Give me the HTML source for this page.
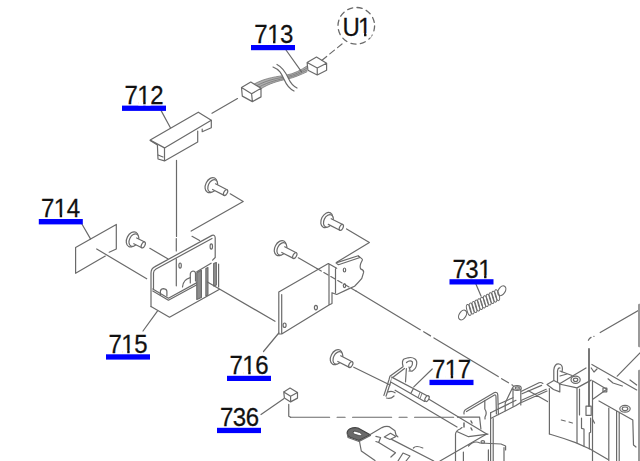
<!DOCTYPE html>
<html><head><meta charset="utf-8"><style>
html,body{margin:0;padding:0;background:#fff;width:640px;height:461px;overflow:hidden}
svg{display:block}
</style></head><body>
<svg width="640" height="461" viewBox="0 0 640 461">
<defs>
<g id="screwL">
 <g transform="rotate(27)">
  <ellipse cx="-0.8" cy="0" rx="5.4" ry="8" fill="#fff"/>
  <ellipse cx="1.0" cy="0" rx="4.4" ry="6.6" fill="#fff"/>
  <path d="M2.5,-3.2 L15.5,-3.2 L15.5,3.2 L2.5,3.2 Z" fill="#fff" stroke="none"/>
  <path d="M2.5,-3.2 L15.5,-3.2 M2.5,3.2 L15.5,3.2"/>
  <ellipse cx="15.5" cy="0" rx="1.7" ry="3.2" fill="#fff"/>
 </g>
</g>
<g id="screwS">
 <g transform="rotate(27)">
  <ellipse cx="-0.8" cy="0" rx="5.4" ry="8" fill="#fff"/>
  <ellipse cx="1.0" cy="0" rx="4.4" ry="6.6" fill="#fff"/>
  <path d="M2.5,-3.2 L11.5,-3.2 L11.5,3.2 L2.5,3.2 Z" fill="#fff" stroke="none"/>
  <path d="M2.5,-3.2 L11.5,-3.2 M2.5,3.2 L11.5,3.2"/>
  <ellipse cx="11.5" cy="0" rx="1.7" ry="3.2" fill="#fff"/>
 </g>
</g>
</defs>
<rect width="640" height="461" fill="#fff"/>
<g fill="none" stroke="#6a6a6a" stroke-width="1.2" stroke-linejoin="round" stroke-linecap="round">

<!-- 713 harness -->
<path d="M254.5,83.8 C266,77.5 278,76.5 286,75.2 C294,73.8 301,70 307,66 L307,71.8 C301,74.5 294,77.8 287.5,79 C278,81 269,83.5 261,88.8 Z" fill="#b0b0b0" stroke="none"/>
<g stroke="#777" stroke-width="0.8">
<path d="M254.5,83.8 C266,77.5 278,76.5 286,75.2 C294,73.8 301,70 307,66"/>
<path d="M257,85.5 C268,79.5 279,78 286.5,76.6 C294.5,75 301,71.8 307,68"/>
<path d="M259,87 C269.5,81.3 279.5,79.5 287,77.8 C295,76.2 301,73 307,70"/>
<path d="M261,88.8 C269,83.5 278,81 287.5,79 C294,77.8 301,74.5 307,71.8"/>
</g>
<path d="M241.5,87.5 L250.8,82 L261,88.3 L251.6,93.8 Z M241.5,87.5 L242.3,96.1 L252.4,101.6 L261,96.9 L261,88.3 M251.6,93.8 L252.4,101.6" fill="#fff"/>
<path d="M307.1,62.5 L316.5,57 L326.6,63.3 L317.25,68 Z M307.1,62.5 L307.9,70.3 L317.25,75 L326.6,70.3 L326.6,63.3 M317.25,68 L317.25,75" fill="#fff"/>
<path d="M273,67 C281,69.5 282,75 284.4,80 C286.5,85 289,88.5 294,91 L297,88 C293,86 290.5,83 288.5,78.5 C286,73 284,67.5 277,64.5 Z" fill="#fff" stroke="none"/>
<path d="M273,67 C280,69.5 282,75 284.4,80 C286.5,85 289,88.5 294,91"/>
<path d="M277,64.5 C283,67.5 286,73 288.5,78.5 C290.5,83 293,86 297,88"/>
<path d="M286,50 L301.6,71.9"/>
<path d="M322,60.2 L342,44" stroke-dasharray="6,4"/>
<path d="M237.5,98.6 L212,113.3"/>
<circle cx="356.3" cy="25.8" r="18.3" stroke-dasharray="5.2,4.4" stroke-width="1.3"/>

<!-- 712 part -->
<path d="M150.2,140.1 L198.3,112.2 L211.3,120.3 L164.5,147.9 Z" fill="#fff"/>
<path d="M150.2,140.6 L157.4,145 L158,159 L164.5,160.9 L164.5,147.9 M164.5,160.9 L197.7,142 L197.7,131 M211.3,120.3 L211.3,127.8 L202.2,131.7 L202.2,129"/>
<path d="M158,155 L163,157"/>
<path d="M161.25,110.9 L170.4,127.75"/>
<path d="M176.5,160.3 L176.5,236.5 M176.3,238.5 L176.3,251 M176.3,258.8 L176.3,285.8"/>

<!-- top screw & lines -->
<use href="#screwL" x="211.8" y="185.5"/>
<path d="M230.2,193.8 L243.2,201.6 L191.2,231.1"/>
<path d="M192,236.3 L199.6,240.6"/>

<!-- 714 -->
<path d="M75.6,247.5 L116.3,224.4 L116.3,249 L109.2,252.2 M105.3,256.1 L75.6,273.3 L75.6,247.5"/>
<path d="M81.9,224 L90.5,238.9"/>
<path d="M96.7,249 L146.7,278.8"/>
<use href="#screwS" x="133" y="239.7"/>
<path d="M149.8,248.3 L167.75,258.8"/>

<!-- 715 bracket -->
<path d="M151,306.6 L151,273 Q151,268.5 155,266.6 L212,235.4 Q215.2,234.5 215.2,238 L215.2,257.5 L212.6,260.1"/>
<path d="M153.5,289 L153.5,273 Q153.5,270.5 156,269 L212,238.5"/>
<path d="M151,306.6 L169.5,317.2 L219.6,289.3 M152.8,289 L168.4,298.2 L198.3,281.9 M152.8,291 L168.4,300.2 L198.3,284"/>
<path d="M182.5,287 Q183,279.5 190.3,277.6"/>
<path d="M190.3,283 L190.3,274 Q190.5,271.5 193,271 Q195.5,271 195.5,273.5 L195.5,281"/>
<path d="M160.4,294.5 L160.4,291 Q161,288.6 163.5,288.6 Q166.9,289 166.9,291.5 L166.9,296"/>
<ellipse cx="180.1" cy="265.6" rx="1.2" ry="2.6"/>
<ellipse cx="211.3" cy="246.5" rx="1.2" ry="2.6"/>
<path d="M196.8,272.8 L201.4,270.3 L201.4,297.5 L196.8,299.5 Z" fill="#8c8c8c"/>
<path d="M205.9,268.5 L207.9,267.5 L207.9,295 L205.9,296 Z" fill="#9a9a9a"/>
<path d="M213.7,263.5 L216.3,262.5 L216.3,285 L213.7,286 Z" fill="#9a9a9a"/>
<path d="M218.6,264 L218.6,287 M196.8,271.7 L211.1,263.25"/>
<path d="M207.4,281.9 L275,321.3"/>
<path d="M157.4,311.2 L143,331"/>

<!-- 716 bracket -->
<use href="#screwL" x="327.5" y="220.4"/>
<use href="#screwL" x="281" y="248.5"/>
<path d="M346.6,228.9 L369.4,242.5 L336.7,262.3"/>
<path d="M298.3,257.8 L316.9,268.6"/>
<path d="M316.9,268.6 L356,291" stroke-dasharray="5,3"/>
<path d="M278.8,292 L328.35,263.5 L336.7,268.3 M329,264 L329,305 L281.7,334 L278.8,334 L278.8,292 M281.7,294.5 L281.7,334 M335.5,268.9 L335.5,292.7 M329,305 L332,303.5 L332,292.7 L336.7,294.5 L349.2,288.6 L354.6,286.2 Q358,283 361.8,278.4 L363.6,272.4 Q364,270 360.6,268.9 Q359,266 362.4,260 Q363,259 358.5,256.5"/>
<path d="M336.1,262.9 L358.2,255.7 L360,257.5 L338.5,264.7 Z"/>
<ellipse cx="344.5" cy="270" rx="1.2" ry="2"/>
<ellipse cx="344.5" cy="285.6" rx="1.2" ry="2"/>
<ellipse cx="315.9" cy="307.6" rx="1.5" ry="2.2"/>
<ellipse cx="284.6" cy="325.2" rx="1.5" ry="2.2"/>
<path d="M263.5,351.5 L278.8,333"/>

<!-- long centre line from 716 -->
<path d="M356,291 L513,385.5" stroke-dasharray="75,4,8,4"/>

<!-- 731 spring -->
<path d="M476,284.2 L481,296.1"/>
<g transform="translate(483,302.6) rotate(-27.5)">
 <g stroke-width="1"><ellipse cx="-16.0" cy="0" rx="1.9" ry="5.6" transform="rotate(12 -16.0 0)"/><ellipse cx="-12.8" cy="0" rx="1.9" ry="5.6" transform="rotate(12 -12.8 0)"/><ellipse cx="-9.6" cy="0" rx="1.9" ry="5.6" transform="rotate(12 -9.6 0)"/><ellipse cx="-6.4" cy="0" rx="1.9" ry="5.6" transform="rotate(12 -6.4 0)"/><ellipse cx="-3.2" cy="0" rx="1.9" ry="5.6" transform="rotate(12 -3.2 0)"/><ellipse cx="0.0" cy="0" rx="1.9" ry="5.6" transform="rotate(12 0.0 0)"/><ellipse cx="3.2" cy="0" rx="1.9" ry="5.6" transform="rotate(12 3.2 0)"/><ellipse cx="6.4" cy="0" rx="1.9" ry="5.6" transform="rotate(12 6.4 0)"/><ellipse cx="9.6" cy="0" rx="1.9" ry="5.6" transform="rotate(12 9.6 0)"/><ellipse cx="12.8" cy="0" rx="1.9" ry="5.6" transform="rotate(12 12.8 0)"/><ellipse cx="16.0" cy="0" rx="1.9" ry="5.6" transform="rotate(12 16.0 0)"/></g>
</g>
<ellipse cx="462.6" cy="315" rx="5.3" ry="3.4" transform="rotate(-58 462.6 315)"/>
<ellipse cx="501.8" cy="290.75" rx="5.3" ry="3.4" transform="rotate(-58 501.8 290.75)"/>
<!-- 717 -->
<use href="#screwL" x="337" y="357.5"/>
<path d="M353.75,367.25 L390,385"/>
<path d="M395.1,390.2 L457,427 M429,399.3 L486.7,434.1"/>
<path d="M383.9,395.4 L389,379.7 L389.9,376.3 L403,366.7 M386,396.2 L391,381 L392,378 L404.5,368.5"/>
<path d="M403,366 Q401.5,361 404,359 L408,357.8 Q412,356.8 415,359 Q417.5,361 416.5,365 Q416,369 412,371.2 L409,371 M406.5,362.5 Q410,359.5 412.5,362 Q413,365 410.5,367.5 M409,367 L410,370"/>
<path d="M406.4,368.5 L405.5,381.9"/>
<path d="M391.7,377.1 L429,396.7 L424.6,401.4 L391.2,382.3 Z" fill="#fff" stroke="none"/><path d="M391.7,377.1 L429,396.7 M391.2,382.3 L424.6,401.4 M413.4,388.4 L410.8,393.5"/>
<ellipse cx="427" cy="398.6" rx="1.8" ry="3.1" transform="rotate(28 427 398.6)" fill="#fff"/>
<path d="M420,392.5 L418,397.5 M422,393.5 L420,398.5" stroke-width="0.9"/>
<path d="M388.2,391.9 Q392,390.5 395.1,392.75 M386.5,398 Q390.5,399.5 394,396"/>
<path d="M432.2,369 L413.8,386.9"/>

<!-- 736 -->
<path d="M283.75,391.9 L290,388.1 L297.5,392.5 L290.6,396.25 Z M283.75,391.9 L284.4,398.1 L290.6,401.9 L297.5,398.1 L297.5,392.5 M290.6,396.25 L290.6,401.9" fill="#fff"/>
<path d="M261,414.5 L283.75,398.75"/>
<path d="M288.75,404.4 L288.75,416.25 L290.6,417.25"/>
<path d="M290.6,417.25 L460,417.25" stroke-dasharray="39,7.5,8,7.5"/>

<!-- bottom left machine -->
<path d="M370.2,434.7 L358,428 Q354,427 350,428.8 Q346.5,431 347.3,434 Q348,436.5 350,437.2 L359,440.5 Z" fill="#6a6a6a" stroke="#444" stroke-width="1.2"/>
<path d="M353.5,431.5 Q352.5,433 354,434 L360,435.8 Q362.2,435.8 361.6,434.3 Q361,433 359.5,432.5 L355,431.2 Q354,431 353.5,431.5 Z" fill="#fff" stroke="#444" stroke-width="0.8"/>
<path d="M347.5,434.5 L348,437.5 L359,441.5 L370.5,435.5"/>
<path d="M370.2,434.5 L382,427.6 Q385,426 389,426.6 L395,430.8 L396,435 L397.9,436.9"/>
<path d="M384.3,437 L390.5,433.3 L396,436.5 L390,439.5 Z"/>
<path d="M375.9,436.4 L380.6,437.5 L378.7,442.5 L375.9,441.5"/>
<path d="M359.5,441.5 L361.3,451 L375,460.5"/>
<path d="M378.7,442.5 L395.5,452.8 L390.9,457"/>
<path d="M391.6,439.4 L433.75,461"/>

<path d="M413.4,448 Q416,445 422.8,448"/>
<path d="M398,461 L403,453 L410,456 L406,461"/>

<!-- machine main -->
<!-- diagonals from left -->
<path d="M440,461 L486.7,434.1"/>
<!-- triangle & box -->
<path d="M457.5,417.2 L479.6,417.2 L480.9,429"/>
<path d="M464,423 L464,427 M471,421 L472,423 M471,428 L472,430" stroke-width="1.5"/>
<path d="M455.5,461 L455.5,434 Q456,430.5 460,429 L462,427.6 M456.8,431.5 L468.5,436.7 L488,434.1 M463.4,452 L463.4,461"/>
<path d="M468.5,446 Q474,440 480,443 L501,444 L505.6,446 L505.6,450 M504,447.6 L504,461 M488.4,449.9 L488.4,461"/>
<ellipse cx="482.8" cy="441.9" rx="1.8" ry="1.3"/>
<!-- rail plate -->
<path d="M464,414 Q463.5,410.5 466.5,409 L494.5,392.5 Q497.5,391.5 497.8,395.1 L498.4,414.6 M466.5,411.5 L494.5,395 Q496,394.5 496,397 L496.4,414"/>
<path d="M484.8,400.3 L484.8,409 Q487.5,413 485,417 L485,419"/>
<!-- vertical block edges -->
<path d="M490.6,412.7 L490.6,461 M493.2,418.5 L493.2,461"/>
<path d="M490.6,412.7 L516,400.3 M490.6,418.5 L516,405.5 M498.4,404.2 L513,397.7 M516,405.5 L521.5,402"/>
<!-- post -->
<path d="M513,388 L513,406.2 M520.8,388.5 L520.8,404.9 M512.4,388 L505.2,402.9 L505.2,410.7"/>
<ellipse cx="517" cy="388" rx="4.2" ry="2.3" fill="#fff"/>
<ellipse cx="517.3" cy="388" rx="2.2" ry="1.2"/>
<!-- long diagonal end -->
<!-- rails right -->
<path d="M521.5,391.2 L539,382.75 Q541,382 542.9,383.4 M522,393.8 L541.6,385.4 M521.5,400.3 L546.2,389.3 M522,402.3 L547,391 M528,390.6 L547.5,401.6"/>
<path d="M549.4,388.6 L549.4,434"/>
<path d="M553.8,382 L553.8,370 Q554.5,363.5 559,364 Q562.5,364.5 562.4,369 L562,372 M557.5,382 L557.5,371 Q558,367.5 560,368"/>
<path d="M547,384.5 L553.8,380.5 L559.8,383.5 L559.8,391.9 L553.5,389.5 Z" fill="#fff"/>
<!-- block A -->
<path d="M559.2,384 L577,387.9 L577,442.6 M579.5,389 L579.5,415 M559.2,384 L586,368 M577,387.9 L591.2,380.1"/>
<path d="M560,371 L572,375.5 M560,376 L567,374"/>
<ellipse cx="575.6" cy="379.8" rx="4.6" ry="3.6"/>
<ellipse cx="575.6" cy="379.8" rx="2.2" ry="1.7"/>
<path d="M549.4,434 Q563,438 575.6,442.6 L590,449 L608,459.5"/>
<!-- pin slot -->
<path d="M592.5,380.8 L592.5,461 M592.5,380.8 L606.8,389.2 M592.5,399.6 L606.8,389.2"/>
<path d="M603,388 L606.8,388 L606.8,391.8 L603,391.8 Z"/>
<path d="M581.5,418 L581.5,428.3 L584,429 L584,446.5 M590.6,418 L590.6,432.2 L589.3,433 L589.3,449"/>
<path d="M586,406.2 L591.2,406.2 L591.2,415.3 L586,415.3 Z M592.5,419.2 L594.5,423.1"/>
<path d="M561.3,420 L565.2,421 M569,422 L572.4,423"/>
<path d="M591.2,368 L594,372 L597,369"/>
<path d="M608,378.8 L613,383 L622.4,386 M630,380 L636.7,385"/>
<!-- right upper -->
<path d="M588.4,340.3 Q590,337 594,336.4" stroke-dasharray="4,3"/>
<path d="M600.2,332.5 L640,309.5"/>
<path d="M589,349 L589,406" stroke-width="1.8"/>
<path d="M639.3,305 L639.3,346 M639.3,371 L639.3,461" stroke="#9a9a9a" stroke-width="2.6"/>
<path d="M591.9,364.5 L636.7,389.9 M617.2,376.2 L640,352.8"/>
<!-- block B -->
<path d="M599,401 L632.8,419.9 L633.5,445 L636,447 M608.8,408.2 L608.8,461 M616.6,410.75 L616.6,461 M619.2,412 L619.2,461"/>
<ellipse cx="625" cy="408.8" rx="5.2" ry="3.4"/>
<ellipse cx="625" cy="408.8" rx="2.8" ry="1.8"/>
</g>

<!-- labels -->
<g fill="#0000ff">
<rect x="251" y="45" width="44" height="5.2"/>
<rect x="122" y="105.6" width="44" height="5.3"/>
<rect x="38.8" y="219" width="44" height="5.4"/>
<rect x="106" y="354.3" width="44" height="5.3"/>
<rect x="227" y="375.8" width="44" height="5.2"/>
<rect x="217" y="427.8" width="44" height="5.3"/>
<rect x="429.5" y="379.8" width="44" height="5.3"/>
<rect x="449.5" y="279.2" width="44" height="5.3"/>
</g>
<g font-family="Liberation Sans" font-size="24">
<g transform="matrix(1,0,0,1.07,0,-3.031)"><text x="254.3" y="43.3" fill="#111" stroke="#111" stroke-width="0.25" letter-spacing="-0.5">713</text><rect x="268.14" y="40.90" width="4.9" height="3.3" fill="#fff"/><rect x="275.44" y="40.90" width="5" height="3.3" fill="#fff"/></g>
<g transform="matrix(1,0,0,1.07,0,-7.315)"><text x="124.5" y="104.5" fill="#111" stroke="#111" stroke-width="0.25" letter-spacing="-0.5">712</text><rect x="138.34" y="102.10" width="4.9" height="3.3" fill="#fff"/><rect x="145.64" y="102.10" width="5" height="3.3" fill="#fff"/></g>
<g transform="matrix(1,0,0,1.07,0,-15.225)"><text x="41" y="217.5" fill="#111" stroke="#111" stroke-width="0.25" letter-spacing="-0.5">714</text><rect x="54.84" y="215.10" width="4.9" height="3.3" fill="#fff"/><rect x="62.14" y="215.10" width="5" height="3.3" fill="#fff"/></g>
<g transform="matrix(1,0,0,1.07,0,-24.710)"><text x="108.5" y="353" fill="#111" stroke="#111" stroke-width="0.25" letter-spacing="-0.5">715</text><rect x="122.34" y="350.60" width="4.9" height="3.3" fill="#fff"/><rect x="129.64" y="350.60" width="5" height="3.3" fill="#fff"/></g>
<g transform="matrix(1,0,0,1.07,0,-26.180)"><text x="229.5" y="374" fill="#111" stroke="#111" stroke-width="0.25" letter-spacing="-0.5">716</text><rect x="243.34" y="371.60" width="4.9" height="3.3" fill="#fff"/><rect x="250.64" y="371.60" width="5" height="3.3" fill="#fff"/></g>
<g transform="matrix(1,0,0,1.07,0,-29.820)"><text x="220" y="426" fill="#111" stroke="#111" stroke-width="0.25" letter-spacing="-0.5">736</text></g>
<g transform="matrix(1,0,0,1.07,0,-26.460)"><text x="432" y="378" fill="#111" stroke="#111" stroke-width="0.25" letter-spacing="-0.5">717</text><rect x="445.84" y="375.60" width="4.9" height="3.3" fill="#fff"/><rect x="453.14" y="375.60" width="5" height="3.3" fill="#fff"/></g>
<g transform="matrix(1,0,0,1.07,0,-19.460)"><text x="452.5" y="278" fill="#111" stroke="#111" stroke-width="0.25" letter-spacing="-0.5">731</text><rect x="479.19" y="275.60" width="4.9" height="3.3" fill="#fff"/><rect x="486.49" y="275.60" width="5" height="3.3" fill="#fff"/></g>
<g transform="matrix(1,0,0,1.07,0,-2.492)"><text x="342.6" y="35.6" fill="#111" stroke="#111" stroke-width="0.25" letter-spacing="-1.8">U1</text><rect x="359.13" y="33.20" width="4.9" height="4.2" fill="#fff"/><rect x="366.43" y="33.20" width="5" height="4.2" fill="#fff"/></g>
</g>
</svg>
</body></html>
